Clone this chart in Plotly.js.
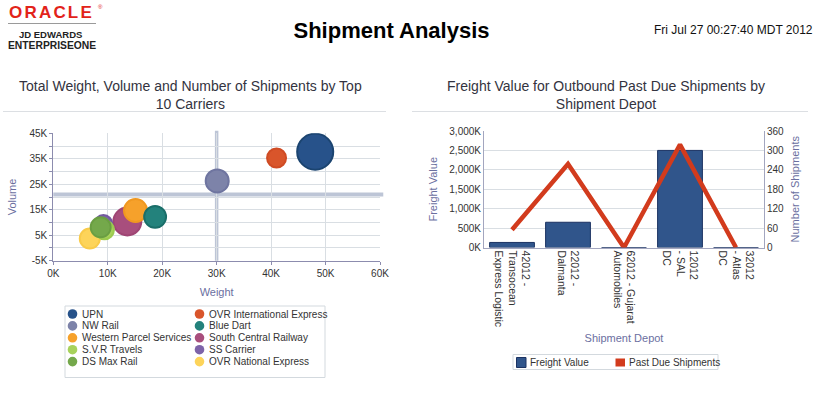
<!DOCTYPE html>
<html>
<head>
<meta charset="utf-8">
<script src="https://cdn.plot.ly/plotly-3.0.1.min.js"></script>
<style>html,body{margin:0;padding:0;background:#fff;}#chart{width:822px;height:398px;}</style>
</head>
<body>
<div id="chart"></div>
<script>
// ---------- Left chart data: Top 10 carriers ----------
const carriers = ['UPN','OVR International Express','NW Rail','Blue Dart','Western Parcel Services','South Central Railway','S.V.R Travels','SS Carrier','DS Max Rail','OVR National Express'];
const weight    = [48100, 41000, 30100, 18700, 15100, 13600, 9400, 9200, 8700, 6700];
const volume    = [37800, 35300, 26300, 12200, 14700, 10400, 7100, 9400, 8100, 3700];
const shipments = [130, 36, 53, 48, 53, 78, 36, 32, 40, 40];
const carrierColors = ['#27528a','#d9552b','#7d83a9','#23827c','#f6a12b','#a84e7d','#a7d25b','#7d63a9','#74a84b','#fdd45a'];
const carrierEdges  = ['#1b4470','#cf4b24','#6f75a0','#1a6e69','#f09820','#9f4574','#9cca50','#735aa0','#6a9e42','#f9cb4a'];
const stackOrder = ['UPN','OVR International Express','NW Rail','South Central Railway','Western Parcel Services','Blue Dart','SS Carrier','OVR National Express','S.V.R Travels','DS Max Rail'];
const weightTickVals = [0,10000,20000,30000,40000,50000,60000];
const weightTickText = ['0K','10K','20K','30K','40K','50K','60K'];
const volumeTickVals = [-5000,5000,15000,25000,35000,45000];
const volumeTickText = ['-5K','5K','15K','25K','35K','45K'];
const weightRef = 30000;
const volumeRef = 21000;

// ---------- Right chart data: shipment depots ----------
const depots = ['42012 -<br>Transocean<br>Express Logistic','22012 -<br>Dalmanta','62012 - Gujarat<br>Automobiles','12012<br>- SAL<br>DC','32012<br>- Atlas<br>DC'];
const freightValue = [130000, 650000, 0, 2500000, 0];
const pastDueShipments = [55, 258, 0, 318, 0];
const freightTickVals = [0,500000,1000000,1500000,2000000,2500000,3000000];
const freightTickText = ['0K','500K','1,000K','1,500K','2,000K','2,500K','3,000K'];
const shipTickVals = [0,60,120,180,240,300,360];

// ---------- helpers (pixel -> paper) ----------
const W = 822, H = 398;
const px = x => x / W;
const py = y => 1 - y / H;
const FONT = '"Liberation Sans", Arial, Helvetica, sans-serif';
const TITLE_COL = '#6b6f9f';
const GRID = '#d9dee3';
const AXLINE = '#8c8cae';
const TICKFONT = {family: FONT, size: 10, color: '#333'};
const AXTITLEFONT = {family: FONT, size: 11, color: TITLE_COL};
const BAR_COL = '#30558b';

// ---------- traces ----------
const idx = stackOrder.map(n => carriers.indexOf(n));
const bubbles = {
  type: 'scatter', mode: 'markers', xaxis: 'x', yaxis: 'y',
  x: idx.map(i => weight[i]),
  y: idx.map(i => volume[i]),
  text: idx.map(i => carriers[i]),
  marker: {
    size: idx.map(i => shipments[i]),
    sizemode: 'area', sizeref: 0.2,
    color: idx.map(i => carrierColors[i]),
    line: { color: idx.map(i => carrierEdges[i]), width: 2 },
    opacity: 1
  },
  hovertemplate: '%{text}<br>Weight %{x}<br>Volume %{y}<extra></extra>'
};

const bars = {
  type: 'bar', name: 'Freight Value', xaxis: 'x2', yaxis: 'y2',
  x: depots, y: freightValue,
  marker: { color: BAR_COL, line: { color: '#1b3262', width: 1 } }
};
const line = {
  type: 'scatter', mode: 'lines', name: 'Past Due Shipments', xaxis: 'x2', yaxis: 'y3',
  x: depots, y: pastDueShipments,
  line: { color: '#d23b1d', width: 4.5 }
};

// ---------- legends (custom, compact) ----------
const shapes = [];
const annotations = [];

// left legend box
shapes.push({type:'rect', xref:'paper', yref:'paper', x0:px(65), x1:px(325), y0:py(377.5), y1:py(306), line:{color:'#d3d9de', width:1}, fillcolor:'rgba(0,0,0,0)'});
carriers.forEach((name, i) => {
  const col = i % 2, row = Math.floor(i / 2);
  const cx = col === 0 ? 72.5 : 199.5;
  const cy = 314 + row * 11.9;
  const r = 4.8;
  shapes.push({type:'circle', xref:'paper', yref:'paper', x0:px(cx-r), x1:px(cx+r), y0:py(cy+r), y1:py(cy-r), fillcolor:carrierColors[i], line:{width:0}});
  annotations.push({xref:'paper', yref:'paper', x:px(cx+7.5), y:py(cy), xanchor:'left', yanchor:'middle', text:name, showarrow:false, font:{family:FONT, size:10, color:'#333'}});
});

// right legend box
shapes.push({type:'rect', xref:'paper', yref:'paper', x0:px(513), x1:px(718), y0:py(369.5), y1:py(354.5), line:{color:'#d3d9de', width:1}, fillcolor:'rgba(0,0,0,0)'});
shapes.push({type:'rect', xref:'paper', yref:'paper', x0:px(516.5), x1:px(526), y0:py(367.5), y1:py(357.5), fillcolor:BAR_COL, line:{color:'#1b3262', width:1}});
annotations.push({xref:'paper', yref:'paper', x:px(527.5), y:py(362.5), xanchor:'left', yanchor:'middle', text:'Freight Value', showarrow:false, font:{family:FONT, size:10, color:'#333'}});
shapes.push({type:'rect', xref:'paper', yref:'paper', x0:px(615.5), x1:px(625), y0:py(366.5), y1:py(358.5), fillcolor:'#d23b1d', line:{width:0}});
annotations.push({xref:'paper', yref:'paper', x:px(627), y:py(362.5), xanchor:'left', yanchor:'middle', text:'Past Due Shipments', showarrow:false, font:{family:FONT, size:10, color:'#333'}});

// reference cross lines in bubble chart
shapes.push({type:'line', xref:'x', yref:'y domain', x0:weightRef, x1:weightRef, y0:0, y1:1.02, layer:'below', line:{color:'#bdc5d6', width:3.5}});
shapes.push({type:'line', xref:'x domain', yref:'y', x0:0, x1:1.01, y0:volumeRef, y1:volumeRef, layer:'below', line:{color:'#bdc5d6', width:4}});

// title underlines
shapes.push({type:'line', xref:'paper', yref:'paper', x0:px(3), x1:px(386), y0:py(111.5), y1:py(111.5), line:{color:'#dcdfe3', width:1}});
shapes.push({type:'line', xref:'paper', yref:'paper', x0:px(412), x1:px(808), y0:py(111.5), y1:py(111.5), line:{color:'#dcdfe3', width:1}});
// logo underline
shapes.push({type:'line', xref:'paper', yref:'paper', x0:px(8), x1:px(96), y0:py(23.5), y1:py(23.5), line:{color:'#9a9a9a', width:1}});

// sub chart titles
annotations.push({xref:'paper', yref:'paper', x:px(190), y:py(94.5), xanchor:'center', yanchor:'middle', align:'center', showarrow:false,
  text:'Total Weight, Volume and Number of Shipments by Top<br>10 Carriers', font:{family:FONT, size:14, color:'#333340'}});
annotations.push({xref:'paper', yref:'paper', x:px(606), y:py(94.5), xanchor:'center', yanchor:'middle', align:'center', showarrow:false,
  text:'Freight Value for Outbound Past Due Shipments by<br>Shipment Depot', font:{family:FONT, size:14, color:'#333340'}});
// date stamp
annotations.push({xref:'paper', yref:'paper', x:px(815), y:py(30), xanchor:'right', yanchor:'middle', showarrow:false,
  text:'Fri Jul 27 00:27:40 MDT 2012', font:{family:FONT, size:12, color:'#111'}});
// logo
annotations.push({xref:'paper', yref:'paper', x:px(7), y:py(12.5), xanchor:'left', yanchor:'middle', showarrow:false,
  text:'<b><span style="letter-spacing:2.2px">ORACLE</span></b>', font:{family:FONT, size:17, color:'#e2231a'}});
annotations.push({xref:'paper', yref:'paper', x:px(96), y:py(7), xanchor:'left', yanchor:'middle', showarrow:false,
  text:'®', font:{family:FONT, size:6, color:'#e2231a'}});
annotations.push({xref:'paper', yref:'paper', x:px(50.5), y:py(34), xanchor:'center', yanchor:'middle', showarrow:false,
  text:'<b>JD EDWARDS</b>', font:{family:FONT, size:9.5, color:'#222'}});
annotations.push({xref:'paper', yref:'paper', x:px(52), y:py(46), xanchor:'center', yanchor:'middle', showarrow:false,
  text:'<b>ENTERPRISEONE</b>', font:{family:FONT, size:10.3, color:'#222'}});

const layout = {
  width: W, height: H,
  margin: {l:0, r:0, t:0, b:0},
  paper_bgcolor: '#ffffff', plot_bgcolor: 'rgba(0,0,0,0)',
  showlegend: false,
  font: {family: FONT, size: 10, color: '#333'},
  title: {text: '<b>Shipment Analysis</b>', x: px(391.5), xanchor: 'center', y: py(30), yanchor: 'middle', yref: 'paper',
          font: {family: FONT, size: 22, color: '#000'}},
  bargap: 0.2,
  xaxis: {
    domain: [px(53.3), px(380)], anchor: 'y', range: [0, 60000],
    tickmode: 'array', tickvals: weightTickVals, ticktext: weightTickText,
    showgrid: true, gridcolor: GRID, gridwidth: 1, zeroline: false,
    showline: true, linecolor: AXLINE, linewidth: 1, ticks: 'outside', ticklen: 3, tickcolor: AXLINE,
    tickfont: TICKFONT,
    title: {text: 'Weight', font: AXTITLEFONT, standoff: 10}
  },
  yaxis: {
    domain: [py(260.7), py(133.3)], anchor: 'x', range: [-5000, 45000],
    tickmode: 'array', tickvals: volumeTickVals, ticktext: volumeTickText,
    minor: {tickmode: 'linear', tick0: -5000, dtick: 5000, showgrid: true, gridcolor: GRID, ticks: 'outside', ticklen: 3, tickcolor: AXLINE},
    showgrid: true, gridcolor: GRID, zeroline: false,
    showline: true, linecolor: AXLINE, linewidth: 1, ticks: 'outside', ticklen: 3, tickcolor: AXLINE,
    tickfont: TICKFONT,
    title: {text: 'Volume', font: AXTITLEFONT, standoff: 10}
  },
  xaxis2: {
    domain: [px(484), px(764)], anchor: 'y2', type: 'category',
    tickangle: 90, showgrid: false, zeroline: false,
    showline: true, linecolor: '#a3a6bf', linewidth: 1, ticks: '',
    tickfont: {family: FONT, size: 10.5, color: '#333'},
    title: {text: 'Shipment Depot', font: AXTITLEFONT, standoff: 8}
  },
  yaxis2: {
    domain: [py(247.5), py(131)], anchor: 'x2', range: [0, 3000000],
    tickmode: 'array', tickvals: freightTickVals, ticktext: freightTickText,
    showgrid: true, gridcolor: GRID, zeroline: false,
    showline: true, linecolor: '#a3a6bf', linewidth: 1, ticks: '',
    tickfont: TICKFONT,
    title: {text: 'Freight Value', font: AXTITLEFONT, standoff: 9}
  },
  yaxis3: {
    overlaying: 'y2', side: 'right', anchor: 'x2', range: [0, 360],
    tickmode: 'array', tickvals: shipTickVals,
    showgrid: false, zeroline: false,
    showline: true, linecolor: '#a3a6bf', linewidth: 1, ticks: '',
    tickfont: TICKFONT,
    title: {text: 'Number of Shipments', font: AXTITLEFONT, standoff: 8}
  },
  shapes: shapes,
  annotations: annotations
};

Plotly.newPlot('chart', [bubbles, bars, line], layout, {displayModeBar: false, staticPlot: true});
</script>
</body>
</html>
